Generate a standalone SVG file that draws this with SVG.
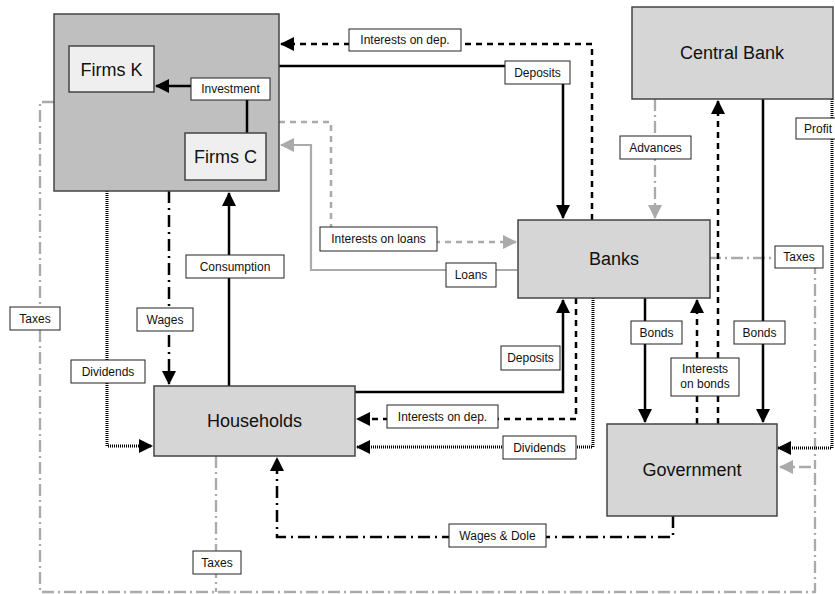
<svg xmlns="http://www.w3.org/2000/svg" width="835" height="594" viewBox="0 0 835 594">
<defs>
<marker id="ab" markerUnits="userSpaceOnUse" markerWidth="14" markerHeight="14" refX="13" refY="7" orient="auto"><path d="M0,0 L14,7 L0,14 z" fill="#000"/></marker>
<marker id="ag" markerUnits="userSpaceOnUse" markerWidth="14" markerHeight="14" refX="13" refY="7" orient="auto"><path d="M0,0 L14,7 L0,14 z" fill="#aaa"/></marker>
<style>
.box{fill:#d6d6d6;stroke:#444;stroke-width:1.5}
.outer{fill:#bfbfbf;stroke:#444;stroke-width:1.5}
.inner{fill:#efefef;stroke:#444;stroke-width:1.5}
.big{font-family:"Liberation Sans",Arial,sans-serif;font-size:18px;fill:#111;text-anchor:middle}
.lbl rect{fill:#fff;stroke:#222;stroke-width:1}
.lbl text{font-family:"Liberation Sans",Arial,sans-serif;font-size:12px;fill:#111;text-anchor:middle}
.c{fill:none}
.solid{stroke:#000;stroke-width:2.5}
.dash{stroke:#000;stroke-width:2.5;stroke-dasharray:6,5}
.dot{stroke:#000;stroke-width:3;stroke-dasharray:1,1}
.dd{stroke:#000;stroke-width:2.5;stroke-dasharray:12,5,2,5}
.gsolid{stroke:#aaa;stroke-width:2.2}
.gdash{stroke:#aaa;stroke-width:2.5;stroke-dasharray:6,5}
.gdd{stroke:#aaa;stroke-width:2.3;stroke-dasharray:12,4,2,4}
</style>
</defs>

<g id="connectors" class="c">
<path class="gdd" d="M54,102 H40 V592 H815 V467 H780" marker-end="url(#ag)"/>
<path class="gdd" d="M216,456 V592"/>
<path class="gdd" d="M709,258 H815 V467"/>
<path class="gdd" d="M655,99 V218" marker-end="url(#ag)"/>
<path class="dash" d="M592,220 V44 H281" marker-end="url(#ab)"/>
<path class="solid" d="M279,66 H563 V218" marker-end="url(#ab)"/>
<path class="gdash" d="M279,122 H331 V242 H516" marker-end="url(#ag)"/>
<path class="gsolid" d="M517,270 H311 V145 H281" marker-end="url(#ag)"/>
<path class="dash" d="M697,424 V300" marker-end="url(#ab)"/>
<path class="dash" d="M718,424 V101" marker-end="url(#ab)"/>
<path class="solid" d="M645,298 V422" marker-end="url(#ab)"/>
<path class="solid" d="M763,99 V422" marker-end="url(#ab)"/>
<path class="dot" d="M832,99 V448 H778" marker-end="url(#ab)"/>
<path class="dd" d="M169,191 V384" marker-end="url(#ab)"/>
<path class="solid" d="M229,386 V193" marker-end="url(#ab)"/>
<path class="dot" d="M107,191 V446 H152" marker-end="url(#ab)"/>
<path class="solid" d="M355,392 H563 V300" marker-end="url(#ab)"/>
<path class="dash" d="M576,298 V419 H357" marker-end="url(#ab)"/>
<path class="dot" d="M593,298 V447 H357" marker-end="url(#ab)"/>
<path class="dd" d="M673,516 V537 H277 V458" marker-end="url(#ab)"/>
</g>

<g id="firms">
<rect class="outer" x="54" y="14" width="225" height="177"/>
</g>
<g id="firms-investment" class="c">
<path class="solid" d="M247,133 V100"/>
<path class="solid" d="M191,86 H156" marker-end="url(#ab)"/>
</g>
<g id="firms-k">
<rect class="inner" x="69" y="46" width="85" height="46"/>
<text class="big" x="111.5" y="75.5">Firms K</text>
</g>
<g id="firms-c">
<rect class="inner" x="185" y="133" width="81" height="47"/>
<text class="big" x="225.5" y="163">Firms C</text>
</g>
<g id="central-bank">
<rect class="box" x="632" y="7" width="201" height="92"/>
<text class="big" x="732" y="59">Central Bank</text>
</g>
<g id="banks">
<rect class="box" x="518" y="220" width="192" height="78"/>
<text class="big" x="614" y="265">Banks</text>
</g>
<g id="households">
<rect class="box" x="154" y="386" width="201" height="70"/>
<text class="big" x="254.5" y="427">Households</text>
</g>
<g id="government">
<rect class="box" x="607" y="424" width="170" height="92"/>
<text class="big" x="692" y="476">Government</text>
</g>

<g id="labels" class="lbl">
<rect x="191" y="78" width="79" height="22"/><text x="230.5" y="93">Investment</text>
<rect x="349" y="29" width="112" height="22"/><text x="405" y="44">Interests on dep.</text>
<rect x="505" y="61" width="65" height="23"/><text x="537.5" y="77">Deposits</text>
<rect x="320" y="227" width="117" height="24"/><text x="378.5" y="243">Interests on loans</text>
<rect x="446" y="263" width="50" height="24"/><text x="471" y="279">Loans</text>
<rect x="620" y="136" width="71" height="23"/><text x="655.5" y="152">Advances</text>
<rect x="796" y="118" width="42" height="21"/><text x="818" y="133">Profit</text>
<rect x="775" y="246" width="48" height="22"/><text x="799" y="261">Taxes</text>
<rect x="631" y="321" width="51" height="23"/><text x="656.5" y="337">Bonds</text>
<rect x="734" y="321" width="51" height="23"/><text x="759.5" y="337">Bonds</text>
<rect x="671" y="358" width="68" height="38"/><text x="705" y="373">Interests</text><text x="705" y="388">on bonds</text>
<rect x="10" y="307" width="50" height="23"/><text x="35" y="323">Taxes</text>
<rect x="137" y="308" width="56" height="23"/><text x="165" y="324">Wages</text>
<rect x="186" y="255" width="98" height="23"/><text x="235" y="271">Consumption</text>
<rect x="71" y="360" width="74" height="23"/><text x="108" y="376">Dividends</text>
<rect x="501" y="346" width="59" height="24"/><text x="530.5" y="362">Deposits</text>
<rect x="387" y="405" width="111" height="23"/><text x="442.5" y="421">Interests on dep.</text>
<rect x="503" y="436" width="73" height="23"/><text x="539.5" y="452">Dividends</text>
<rect x="449" y="524" width="97" height="23"/><text x="497.5" y="540">Wages &amp; Dole</text>
<rect x="193" y="551" width="48" height="23"/><text x="217" y="567">Taxes</text>
</g>
</svg>
